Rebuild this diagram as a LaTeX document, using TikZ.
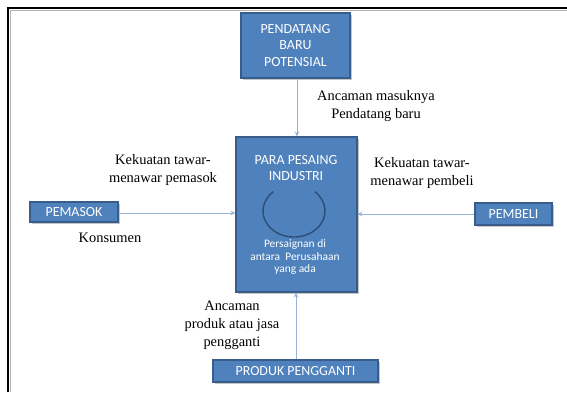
\documentclass[tikz,border=0pt]{standalone}
\usepackage{fontspec}
\setmainfont{Liberation Serif}
\newfontfamily\boxfont{Carlito}
\usetikzlibrary{shadows,arrows.meta}
\definecolor{boxblue}{HTML}{4F81BD}
\definecolor{boxedge}{HTML}{385D8A}
\definecolor{arrowblue}{HTML}{95B3D7}
\definecolor{ringblue}{HTML}{2C4D75}
\tikzset{
  force/.style={draw=boxedge, fill=boxblue, line width=1.1bp, text=white,
    font=\boxfont\fontsize{14}{16.5}\selectfont, align=center, inner sep=0pt,
    drop shadow={opacity=0.45, shadow xshift=1.5bp, shadow yshift=-1.8bp}},
  label text/.style={font=\fontsize{14.5}{18}\selectfont, align=center, inner sep=0pt},
  flow/.style={draw=arrowblue, line width=0.9bp, -{Stealth[length=5bp,width=4.5bp]}}
}
\begin{document}
\begin{tikzpicture}[x=1bp,y=-1bp]
\useasboundingbox (0,0) rectangle (567,392);
% page frame
\draw[gray!60, line width=0.8bp] (10.5,392) -- (10.5,10.5) -- (567,10.5);
\draw[black, line width=2.4bp] (8,392) -- (8,8) -- (567,8);

% forces
\node[force, minimum width=109bp, minimum height=65bp] (entrant) at (295.5,45.5)
  {PENDATANG\\BARU\\POTENSIAL};
\node[force, minimum width=121bp, minimum height=155bp] (rivals) at (296.5,214.5) {};
\node[force, minimum width=88bp, minimum height=20bp] (supplier) at (74,212) {PEMASOK};
\node[force, minimum width=77bp, minimum height=22bp] (buyer) at (513.5,214) {PEMBELI};
\node[force, minimum width=165bp, minimum height=22bp] (substitute) at (295.5,371)
  {PRODUK PENGGANTI};

% contents of the central box
\node[text=white, font=\boxfont\fontsize{14}{16.5}\selectfont, align=center, inner sep=0pt]
  (rivtitle) at (296,168) {PARA PESAING\\INDUSTRI};
\coordinate (ring) at (294,211);
\draw[ringblue, line width=1.4bp] (ring) ++(-48:31 and 26)
  arc[start angle=-48, end angle=228, x radius=31, y radius=26];
\node[text=white, font=\boxfont\fontsize{11.5}{12.8}\selectfont, align=center, inner sep=0pt]
  (rivtext) at (295,257) {Persaignan di\\antara~ Perusahaan\\yang ada};

% connectors
\draw[flow] (entrant.south -| 297,0) -- (rivals.north -| 297,0);
\draw[flow] (supplier.east |- 0,213) -- (rivals.west |- 0,213);
\draw[flow] (buyer.west |- 0,214) -- (rivals.east |- 0,214);
\draw[flow] (substitute.north -| 296,0) -- (rivals.south -| 296,0);

% labels
\node[label text] (lblentrant) at (376,106) {Ancaman masuknya\\Pendatang baru};
\node[label text] (lblsupplier) at (163,170) {Kekuatan tawar-\\menawar pemasok};
\node[label text] (lblconsumer) at (110,238) {Konsumen};
\node[label text] (lblbuyer) at (422,173) {Kekuatan tawar-\\menawar pembeli};
\node[label text] (lblsubst) at (232,325) {Ancaman\\produk atau jasa\\pengganti};
\end{tikzpicture}
\end{document}
